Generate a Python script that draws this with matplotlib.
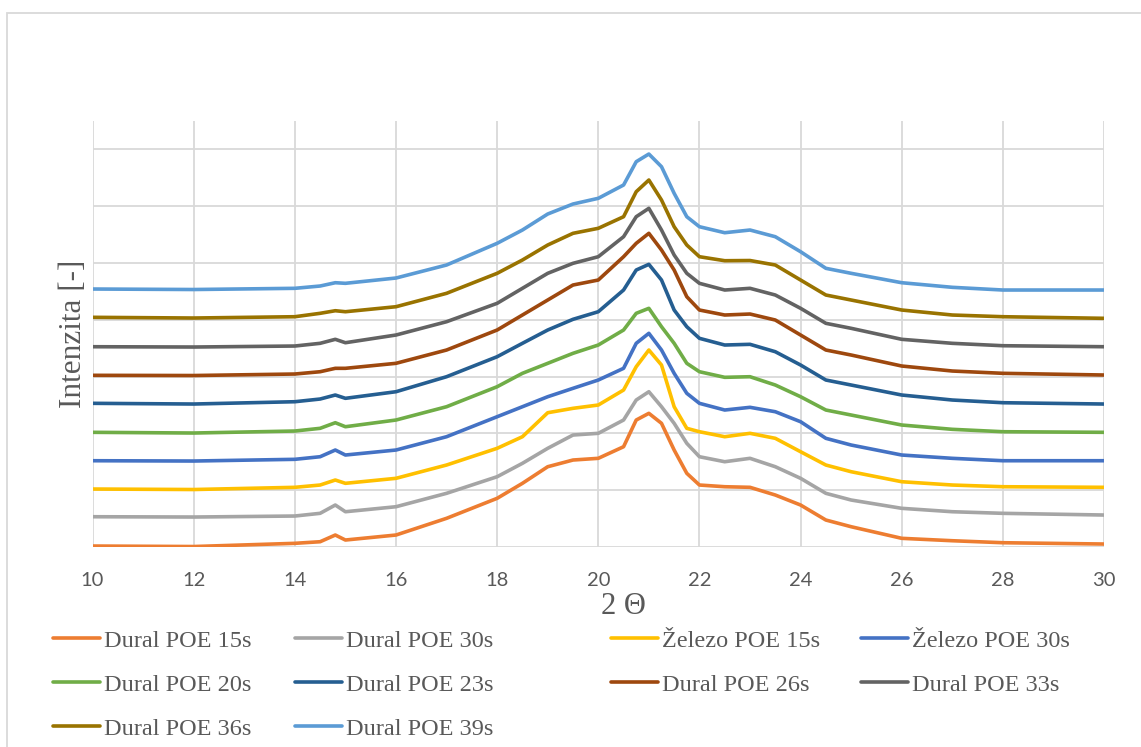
import matplotlib.pyplot as plt
from matplotlib.patches import Rectangle
from matplotlib.ticker import MultipleLocator

plt.rcParams.update({'font.family': 'Liberation Serif', 'text.color': '#595959'})

# 2-theta positions and intensities of the stacked diffractograms
two_theta = [10, 12, 14, 14.5, 14.8, 15, 16, 17, 18, 18.5, 19, 19.5, 20, 20.5, 20.75,
             21, 21.25, 21.5, 21.75, 22, 22.5, 23, 23.5, 24, 24.5, 25, 26, 27, 28, 30]

dural_15s = [10, 5, 37, 53, 120, 70, 120, 287, 487, 637, 803, 870, 887, 1003, 1270,
             1337, 1237, 970, 737, 620, 603, 597, 520, 420, 270, 203, 87, 63, 43, 30]
dural_30s = [303, 300, 310, 337, 420, 353, 403, 537, 703, 837, 987, 1120, 1137, 1270, 1470,
             1553, 1403, 1237, 1037, 903, 853, 887, 803, 687, 537, 470, 387, 353, 337, 320]
zelezo_15s = [580, 575, 597, 620, 670, 637, 687, 820, 987, 1103, 1343, 1387, 1420, 1570, 1803,
              1970, 1820, 1403, 1187, 1153, 1103, 1137, 1087, 953, 820, 753, 653, 620, 603, 597]
zelezo_30s = [863, 860, 877, 903, 970, 920, 970, 1103, 1303, 1403, 1503, 1587, 1670, 1787, 2037,
              2137, 1970, 1737, 1537, 1437, 1370, 1397, 1353, 1253, 1087, 1020, 920, 887, 863, 863]
dural_20s = [1147, 1140, 1160, 1187, 1243, 1203, 1270, 1403, 1603, 1737, 1837, 1937, 2020, 2170, 2337,
             2387, 2203, 2037, 1837, 1753, 1697, 1703, 1620, 1503, 1370, 1320, 1220, 1177, 1153, 1147]
dural_23s = [1437, 1430, 1453, 1480, 1520, 1487, 1553, 1703, 1903, 2037, 2170, 2277, 2353, 2570, 2770,
             2827, 2670, 2370, 2203, 2087, 2020, 2027, 1953, 1820, 1670, 1620, 1520, 1470, 1443, 1430]
dural_26s = [1717, 1715, 1730, 1753, 1787, 1787, 1837, 1970, 2170, 2320, 2470, 2620, 2670, 2903, 3037,
             3137, 2970, 2770, 2503, 2370, 2320, 2330, 2270, 2120, 1970, 1920, 1810, 1760, 1737, 1720]
dural_33s = [2003, 2000, 2010, 2037, 2077, 2043, 2120, 2253, 2437, 2587, 2737, 2837, 2903, 3103, 3303,
             3387, 3170, 2920, 2737, 2637, 2570, 2587, 2520, 2387, 2237, 2187, 2077, 2037, 2013, 2003]
dural_36s = [2297, 2290, 2303, 2337, 2363, 2353, 2403, 2537, 2737, 2870, 3020, 3137, 3187, 3303, 3553,
             3670, 3470, 3203, 3020, 2903, 2863, 2865, 2820, 2670, 2520, 2470, 2370, 2320, 2303, 2287]
dural_39s = [2580, 2575, 2587, 2610, 2643, 2637, 2690, 2820, 3037, 3170, 3330, 3430, 3487, 3620, 3853,
             3930, 3803, 3537, 3303, 3203, 3143, 3170, 3103, 2953, 2787, 2737, 2643, 2597, 2570, 2570]

series = [
    ('Dural POE 15s', dural_15s, '#ED7D31'),
    ('Dural POE 30s', dural_30s, '#A5A5A5'),
    ('Železo POE 15s', zelezo_15s, '#FFC000'),
    ('Železo POE 30s', zelezo_30s, '#4472C4'),
    ('Dural POE 20s', dural_20s, '#70AD47'),
    ('Dural POE 23s', dural_23s, '#255E91'),
    ('Dural POE 26s', dural_26s, '#9E480E'),
    ('Dural POE 33s', dural_33s, '#636363'),
    ('Dural POE 36s', dural_36s, '#997300'),
    ('Dural POE 39s', dural_39s, '#5B9BD5'),
]

fig = plt.figure(figsize=(11.41, 7.47), dpi=100)
ax = fig.add_axes([0.0811, 0.2677, 0.8865, 0.5703])

lines = {}
for label, vals, col in series:
    lines[label], = ax.plot(two_theta, vals, color=col, lw=2.6, solid_capstyle='round')

ax.set_xlim(10, 30)
ax.set_ylim(0, 4260)
ax.xaxis.set_major_locator(MultipleLocator(2))
ax.yaxis.set_major_locator(MultipleLocator(568))
ax.grid(True, color='#D9D9D9', lw=1.3)
ax.set_axisbelow(True)
for s in ax.spines.values():
    s.set_visible(False)
ax.tick_params(axis='x', length=0, pad=18, labelsize=14.5, labelcolor='#595959')
ax.tick_params(axis='y', length=0, labelleft=False)
for t in ax.get_xticklabels():
    t.set_fontfamily('Lato')

ax.set_xlabel('2 Θ', fontsize=22, color='#595959')
ax.xaxis.set_label_coords(0.525, -0.105)
ax.set_ylabel('Intenzita [-]', fontsize=22.5, color='#595959')
ax.yaxis.set_label_coords(-0.004, 0.5)

# legend laid out column by column
columns = [
    (['Dural POE 15s', 'Dural POE 20s', 'Dural POE 36s'], 0.0465),
    (['Dural POE 30s', 'Dural POE 23s', 'Dural POE 39s'], 0.2585),
    (['Železo POE 15s', 'Dural POE 26s'], 0.5355),
    (['Železo POE 30s', 'Dural POE 33s'], 0.7546),
]
for names, x0 in columns:
    fig.legend([lines[n] for n in names], names, loc='upper left',
               bbox_to_anchor=(x0, 0.157), frameon=False, fontsize=17.5,
               handlelength=1.95, handletextpad=0.15, borderpad=0,
               borderaxespad=0, labelspacing=0.9)

fig.patches.append(Rectangle((6.7 / 1141, -0.1), 1.2, 1.1 - 12.7 / 747,
                             transform=fig.transFigure, fill=False,
                             ec='#D9D9D9', lw=1.3))

fig.savefig('out.png', dpi=100)
